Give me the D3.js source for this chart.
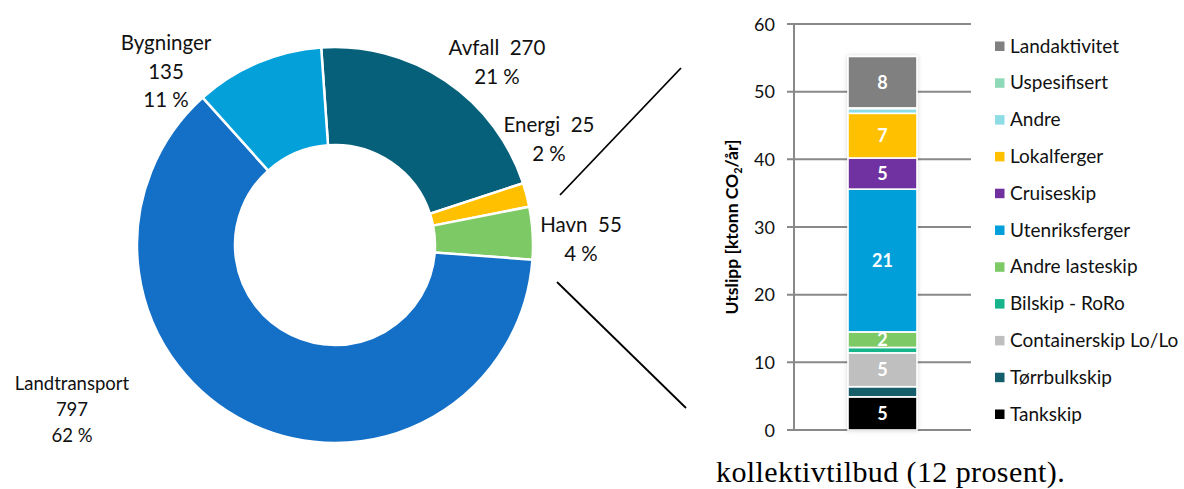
<!DOCTYPE html>
<html>
<head>
<meta charset="utf-8">
<title>Utslipp</title>
<style>
  body { margin: 0; background: #fff; }
  svg text { font-family: Lato, "Open Sans", sans-serif; }
</style>
</head>
<body>
<script src="https://d3js.org/d3.v7.min.js"></script>
<script>
// donut data (ktonn CO2/år)
var sectors = ["Avfall", "Energi", "Havn", "Landtransport", "Bygninger"];
var sectorValues = [270, 25, 55, 797, 135];
var sectorPct = ["21 %", "2 %", "4 %", "62 %", "11 %"];
var sectorColors = ["#06607a", "#ffc000", "#7dc965", "#146fc6", "#03a0da"];

// stacked bar (havn), bottom to top
var ships = ["Tankskip", "Tørrbulkskip", "Containerskip Lo/Lo", "Bilskip - RoRo", "Andre lasteskip",
             "Utenriksferger", "Cruiseskip", "Lokalferger", "Andre", "Uspesifisert", "Landaktivitet"];
var shipValues = [4.9, 1.5, 5.0, 0.8, 2.3, 21.1, 4.6, 6.6, 0.7, 0.1, 7.6];
var shipColors = ["#000000", "#135e6a", "#bfbfbf", "#16b48a", "#7dc965",
                  "#019fd9", "#7030a0", "#ffc000", "#8edde6", "#8ed9b8", "#808080"];
var yTicks = [0, 10, 20, 30, 40, 50, 60];

var svg = d3.select("body").append("svg")
    .attr("width", 1184).attr("height", 489);

// ---- donut ----
var cx = 335, cy = 245;
var pie = d3.pie().sort(null)
    .startAngle(-4 * Math.PI / 180)
    .endAngle(2 * Math.PI - 4 * Math.PI / 180);
var arc = d3.arc().innerRadius(100).outerRadius(198);
var slices = pie(sectorValues);

var g = svg.append("g").attr("transform", "translate(" + cx + "," + cy + ")");
g.selectAll("path").data(slices).enter().append("path")
    .attr("d", arc)
    .attr("fill", function(d, i) { return sectorColors[i]; })
    .attr("stroke", "#fff")
    .attr("stroke-width", 2.5);

// label anchors (centre x, first baseline), placed like in the original
var labelPos = [[497, 55], [549, 132], [581, 232], [72, 390], [166, 50]];
var labelLines = sectors.map(function(s, i) {
  if (s === "Landtransport" || s === "Bygninger") return [s, String(sectorValues[i]), sectorPct[i]];
  return [s + "\u00a0\u00a0" + sectorValues[i], sectorPct[i]];
});
labelLines.forEach(function(lines, i) {
  var small = sectors[i] === "Landtransport";
  var lh = small ? 26 : 28.5;
  var t = svg.append("text")
      .attr("text-anchor", "middle")
      .attr("font-size", small ? 18.5 : 20.5)
      .attr("fill", "#111");
  lines.forEach(function(l, k) {
    t.append("tspan")
        .attr("x", labelPos[i][0])
        .attr("y", labelPos[i][1] + k * lh)
        .text(l);
  });
});

// connector lines
svg.append("line").attr("x1", 560).attr("y1", 195).attr("x2", 681).attr("y2", 68)
    .attr("stroke", "#000").attr("stroke-width", 1.8);
svg.append("line").attr("x1", 557).attr("y1", 282).attr("x2", 686).attr("y2", 408)
    .attr("stroke", "#000").attr("stroke-width", 1.8);

// ---- stacked bar ----
var y = d3.scaleLinear().domain([0, 60]).range([430, 24]);
var x = d3.scaleBand().domain(["Havn"]).range([794, 971]).paddingInner(0.439).paddingOuter(0.439);

svg.append("g").selectAll("line").data(yTicks).enter().append("line")
    .attr("x1", 787).attr("x2", 971)
    .attr("y1", function(d) { return y(d); }).attr("y2", function(d) { return y(d); })
    .attr("stroke", "#898989").attr("stroke-width", 2);
svg.append("line").attr("x1", 794).attr("x2", 794).attr("y1", y(60)).attr("y2", y(0))
    .attr("stroke", "#898989").attr("stroke-width", 2);

svg.append("g").selectAll("text").data(yTicks).enter().append("text")
    .attr("x", 775).attr("y", function(d) { return y(d) + 6.5; })
    .attr("text-anchor", "end").attr("font-size", 18).attr("fill", "#111")
    .text(function(d) { return d; });

var defs = svg.append("defs");
var f = defs.append("filter").attr("id", "sh").attr("x", "-20%").attr("y", "-5%")
    .attr("width", "140%").attr("height", "110%");
f.append("feDropShadow").attr("dx", 0).attr("dy", 0).attr("stdDeviation", 2)
    .attr("flood-color", "#000").attr("flood-opacity", 0.18);

var stack = [], acc = 0;
shipValues.forEach(function(v, i) { stack.push({ i: i, y0: acc, y1: acc + v, v: v }); acc += v; });

var bg = svg.append("g").attr("filter", "url(#sh)");
bg.selectAll("rect").data(stack).enter().append("rect")
    .attr("x", x("Havn"))
    .attr("width", x.bandwidth())
    .attr("y", function(d) { return y(d.y1); })
    .attr("height", function(d) { return y(d.y0) - y(d.y1); })
    .attr("fill", function(d) { return shipColors[d.i]; })
    .attr("stroke", "#fff").attr("stroke-width", 1.6);

svg.append("g").selectAll("text").data(stack.filter(function(d) { return d.v >= 2; }))
  .enter().append("text")
    .attr("x", x("Havn") + x.bandwidth() / 2)
    .attr("y", function(d) { return (y(d.y0) + y(d.y1)) / 2 + 6.5; })
    .attr("text-anchor", "middle").attr("font-size", 18).attr("font-weight", "bold")
    .attr("fill", "#fff")
    .text(function(d) { return Math.round(d.v); });

// y axis title
var yt = svg.append("text")
    .attr("transform", "translate(738,227) rotate(-90)")
    .attr("text-anchor", "middle").attr("font-size", 17.5).attr("font-weight", "bold")
    .attr("fill", "#000");
yt.append("tspan").text("Utslipp [ktonn CO");
yt.append("tspan").attr("font-size", 11).attr("dy", 4).text("2");
yt.append("tspan").attr("dy", -4).text("/år]");

// legend, top to bottom
var legend = svg.append("g").selectAll("g").data(ships.slice().reverse()).enter().append("g")
    .attr("transform", function(d, k) { return "translate(995," + (46 + k * 36.8) + ")"; });
legend.append("rect").attr("x", 0).attr("y", -4.5).attr("width", 9.5).attr("height", 9.5)
    .attr("fill", function(d) { return shipColors[ships.indexOf(d)]; });
legend.append("text").attr("x", 15).attr("y", 6.5).attr("font-size", 19).attr("fill", "#111")
    .text(function(d) { return d; });

// running text below the chart
svg.append("text").attr("x", 716).attr("y", 482)
    .style("font-family", "'Liberation Serif', serif")
    .attr("font-size", 30).attr("letter-spacing", 0.4).attr("fill", "#000")
    .text("kollektivtilbud (12 prosent).");
</script>
</body>
</html>
